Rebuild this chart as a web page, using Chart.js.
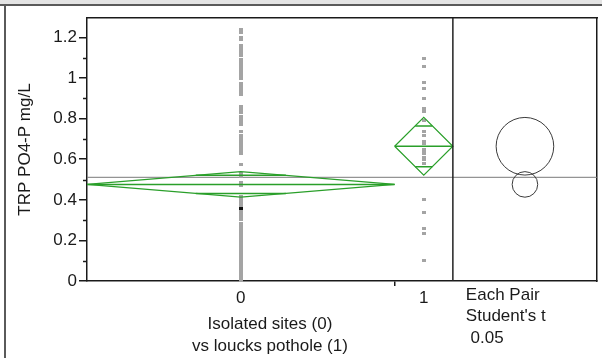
<!DOCTYPE html>
<html><head><meta charset="utf-8">
<script src="https://cdn.jsdelivr.net/npm/chart.js@4/dist/chart.umd.min.js"></script>
<style>
html,body{margin:0;padding:0;background:#fff;}
#wrap{position:relative;width:602px;height:358px;overflow:hidden;background:#fff;}
#bar{position:absolute;left:0;top:0;width:602px;height:4px;background:#e4e4e4;border-bottom:2px solid #5a5a5a;}
#lborder{position:absolute;left:4px;top:5px;width:2px;height:353px;background:#5a5a5a;}
canvas{position:absolute;left:0;top:0;}
</style></head><body>
<div id="wrap"><canvas id="c" width="602" height="358"></canvas><div id="bar"></div><div id="lborder"></div></div>
<script>
// ---------- data ----------
const categories = ['0', '1'];
const groupN = [111, 21];                 // group sizes (x widths are proportional)
const means = [0.476, 0.664];             // group means
const ciLower = [0.413, 0.522];           // 95% CI lower
const ciUpper = [0.539, 0.806];           // 95% CI upper
const grandMean = 0.511;
const group0 = [1.237, 1.226, 1.200, 1.188, 1.160, 1.148, 1.135, 1.120, 1.110, 1.090, 1.078, 1.066,
  1.052, 1.040, 1.028, 1.014, 1.000, 0.975, 0.962, 0.948, 0.933, 0.918, 0.860, 0.846, 0.832, 0.812,
  0.798, 0.784, 0.772, 0.735, 0.718, 0.700, 0.686, 0.672, 0.658, 0.644, 0.630, 0.575, 0.530, 0.515,
  0.486, 0.470, 0.418, 0.405, 0.392, 0.388, 0.374, 0.366, 0.351, 0.342, 0.333, 0.322, 0.318, 0.306,
  0.301, 0.284, 0.279, 0.266, 0.258, 0.247, 0.236, 0.231, 0.219, 0.212, 0.200, 0.194, 0.183, 0.176,
  0.161, 0.155, 0.148, 0.137, 0.129, 0.118, 0.112, 0.101, 0.094, 0.082, 0.077, 0.065, 0.058, 0.046,
  0.040, 0.029, 0.021, 0.012, 0.006, 0.002];
const group0Selected = [0.356];
const group1 = [1.097, 1.056, 0.979, 0.949, 0.900, 0.850, 0.835, 0.793, 0.735, 0.718, 0.685, 0.677,
  0.650, 0.640, 0.630, 0.610, 0.600, 0.580, 0.400, 0.340, 0.260, 0.235, 0.100];
const yMajorTicks = [0, 0.2, 0.4, 0.6, 0.8, 1.0, 1.2];
const yMinorTicks = [0.1, 0.3, 0.5, 0.7, 0.9, 1.1];
const yTitle = 'TRP PO4-P mg/L';
const xTitle = ['Isolated sites (0)', 'vs loucks pothole (1)'];
const compareLabel = ['Each Pair', "Student's t", ' 0.05'];

// ---------- derived geometry (in data units) ----------
const yMin = 0, yMax = 1.296;
const panelWidth = 52;
const bounds = [0, groupN[0], groupN[0] + groupN[1]];
const xMaxAll = bounds[2] + panelWidth;
const centers = [bounds[0] + groupN[0] / 2, bounds[1] + groupN[1] / 2];
const panelCenter = bounds[2] + panelWidth / 2;

const GREEN = '#2a9f2a';
const INK = '#1a1a1a';
const FONT = {family: '"Liberation Sans", Arial, sans-serif', size: 17};

function dash(color) {
  const c = document.createElement('canvas'); c.width = 4; c.height = 3;
  const g = c.getContext('2d'); g.fillStyle = color; g.fillRect(0, 0, 4, 3); return c;
}

const datasets = [];
datasets.push({type: 'line', data: [{x: 0, y: grandMean}, {x: xMaxAll, y: grandMean}],
  borderColor: '#7a7a7a', borderWidth: 1, pointRadius: 0, order: 5});
datasets.push({type: 'line', data: [{x: bounds[2], y: yMin}, {x: bounds[2], y: yMax}],
  borderColor: '#222', borderWidth: 1.5, pointRadius: 0, order: 1});
for (let i = 0; i < 2; i++) {
  const b0 = bounds[i], b1 = bounds[i + 1], c = centers[i], m = means[i];
  const half = (ciUpper[i] - ciLower[i]) / 2;
  const ov = half / Math.SQRT2;
  const f = 1 - ov / half;
  const w = (b1 - b0) / 2 * f;
  datasets.push({type: 'line', data: [{x: b0, y: m}, {x: c, y: ciUpper[i]}, {x: b1, y: m}, {x: c, y: ciLower[i]}, {x: b0, y: m}],
    borderColor: GREEN, borderWidth: 1.2, pointRadius: 0, tension: 0, order: 2});
  datasets.push({type: 'line', data: [{x: b0, y: m}, {x: b1, y: m}],
    borderColor: GREEN, borderWidth: 1.5, pointRadius: 0, order: 2});
  datasets.push({type: 'line', data: [{x: c - w, y: m + ov}, {x: c + w, y: m + ov}, {x: c, y: null}, {x: c - w, y: m - ov}, {x: c + w, y: m - ov}],
    borderColor: GREEN, borderWidth: 1.5, pointRadius: 0, spanGaps: false, order: 2});
}
const grayDash = dash('#a4a4a4');
datasets.push({type: 'scatter', data: group0.map(v => ({x: centers[0], y: v})), pointStyle: grayDash, pointRadius: 1.5, clip: false, order: 4});
datasets.push({type: 'scatter', data: group1.map(v => ({x: centers[1], y: v})), pointStyle: grayDash, pointRadius: 1.5, clip: false, order: 4});
datasets.push({type: 'scatter', data: group0Selected.map(v => ({x: centers[0], y: v})), pointStyle: dash('#111'), pointRadius: 1.5, order: 3});
function circR(ctx) {
  const ys = ctx.chart.scales.y; const i = ctx.dataIndex;
  if (!ys) return 0;
  return Math.abs(ys.getPixelForValue(means[i]) - ys.getPixelForValue(ciUpper[i]));
}
datasets.push({type: 'scatter', data: means.map(m => ({x: panelCenter, y: m})), pointStyle: 'circle',
  pointRadius: circR, pointHoverRadius: circR, pointBackgroundColor: 'rgba(0,0,0,0)',
  pointBorderColor: '#3a3a3a', pointBorderWidth: 1, order: 3});

const extras = {
  id: 'extras',
  afterDraw(chart) {
    const {ctx, chartArea, scales} = chart;
    const ys = scales.y, xs = scales.x;
    ctx.save();
    ctx.strokeStyle = INK; ctx.lineWidth = 1.5;
    for (const v of yMinorTicks) {
      const py = Math.round(ys.getPixelForValue(v)) + 0.5;
      ctx.beginPath(); ctx.moveTo(chartArea.left - 4, py); ctx.lineTo(chartArea.left, py); ctx.stroke();
    }
    ctx.fillStyle = INK;
    ctx.font = `${FONT.size}px ${FONT.family}`;
    ctx.textBaseline = 'middle';
    ctx.textAlign = 'center';
    const cx = xs.getPixelForValue(bounds[2] / 2);
    ctx.fillText(xTitle[0], cx, chartArea.bottom + 43);
    ctx.fillText(xTitle[1], cx, chartArea.bottom + 65);
    ctx.textAlign = 'left';
    const lx = xs.getPixelForValue(bounds[2]) + 13;
    compareLabel.forEach((t, k) => ctx.fillText(t, lx, chartArea.bottom + 14 + k * 21.5));
    ctx.restore();
  }
};

new Chart(document.getElementById('c'), {
  data: {datasets},
  options: {
    responsive: false, animation: false, devicePixelRatio: 1,
    layout: {padding: {left: 0, right: 3, top: 18, bottom: 0}},
    plugins: {legend: {display: false}, tooltip: {enabled: false}},
    scales: {
      x: {type: 'linear', position: 'bottom', min: 0, max: xMaxAll,
        border: {color: INK, width: 1.5},
        grid: {drawOnChartArea: false, tickLength: 5, lineWidth: 1.5,
          color: c => (c.tick && c.tick.value === bounds[1]) ? INK : 'rgba(0,0,0,0)'},
        ticks: {font: FONT, color: INK, padding: 2, autoSkip: false, maxRotation: 0,
          callback: v => { const i = centers.indexOf(v); return i >= 0 ? categories[i] : ''; }},
        afterBuildTicks: s => { s.ticks = [centers[0], bounds[1], centers[1]].map(v => ({value: v})); },
        afterFit: s => { s.height = 77; }
      },
      x2: {type: 'linear', position: 'top', min: 0, max: xMaxAll,
        border: {color: INK, width: 1.5}, grid: {display: false}, ticks: {display: false},
        afterFit: s => { s.height = 0; }
      },
      y: {type: 'linear', position: 'left', min: yMin, max: yMax,
        border: {color: INK, width: 1.5},
        grid: {drawOnChartArea: false, tickLength: 8, lineWidth: 1.5, color: INK},
        ticks: {font: FONT, color: INK, padding: 2, includeBounds: false,
          callback: v => String(Math.round(v * 10) / 10)},
        afterBuildTicks: s => { s.ticks = yMajorTicks.map(v => ({value: v})); },
        title: {display: true, text: yTitle, font: FONT, color: INK, padding: {top: 15, bottom: 0}},
        afterFit: s => { s.width = 87; }
      },
      y2: {type: 'linear', position: 'right', min: yMin, max: yMax,
        border: {color: INK, width: 1.5}, grid: {display: false}, ticks: {display: false},
        afterFit: s => { s.width = 0; }
      }
    }
  },
  plugins: [extras]
});
</script>
</body></html>
